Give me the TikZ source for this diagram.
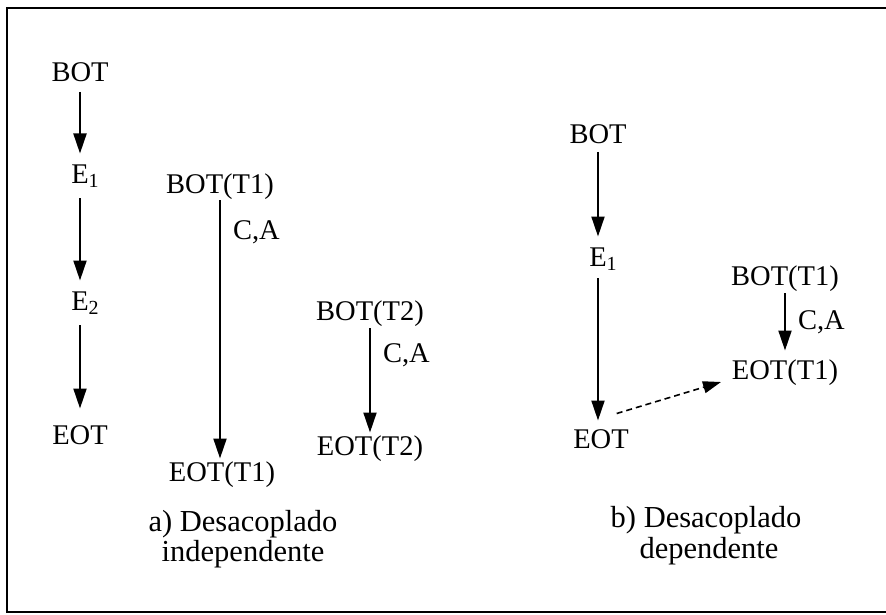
\documentclass[tikz,border=0pt]{standalone}
\usepackage{fontspec}
\setmainfont{Liberation Serif}
\usetikzlibrary{arrows.meta}
\begin{document}
\begin{tikzpicture}[x=1pt,y=-1pt,
  every node/.style={inner sep=0pt, outer sep=0pt, font=\fontsize{28.5}{33}\selectfont},
  lbl/.style={anchor=base, text height=19.5pt, text depth=0pt},
  tag/.style={anchor=base west},
  caption/.style={anchor=base, font=\fontsize{30.5}{33}\selectfont},
  flow/.style={line width=2pt, -{Triangle[length=20pt,width=13pt]}},
  link/.style={line width=1.6pt, dash pattern=on 6pt off 4pt, -{Triangle[length=18pt,width=12pt]}},
  frame/.style={line width=2.8pt}]
\useasboundingbox (0,0) rectangle (886,615);

% outer frame (open on the right)
\draw[frame] (886,8) -- (7,8) -- (7,612) -- (886,612);

% a) single transaction with steps
\node[lbl] (bot) at (80,82) {BOT};
\node[lbl] (e1) at (80,183) {E\rlap{\textsubscript{1}}};
\node[lbl] (e2) at (80,310) {E\rlap{\textsubscript{2}}};
\node[lbl] (eot) at (80,444) {EOT};
\draw[flow, shorten <=10pt, shorten >=10pt] (bot) -- (e1);
\draw[flow, shorten <=15pt, shorten >=10pt] (e1) -- (e2);
\draw[flow, shorten <=15pt, shorten >=16pt] (e2) -- (eot);

% a) decoupled transaction T1
\node[lbl] (b1) at (220,193) {BOT(T1)};
\node[lbl] (e1t) at (222,481) {EOT(T1)};
\draw[flow, shorten <=7pt, shorten >=3pt] (b1.south) -- (b1.south |- e1t.north);
\node[tag] (ca1) at (233,239) {C,A};

% a) decoupled transaction T2
\node[lbl] (b2) at (370,320) {BOT(T2)};
\node[lbl] (e2t) at (370,455) {EOT(T2)};
\draw[flow, shorten <=8pt, shorten >=3pt] (b2) -- (e2t);
\node[tag] (ca2) at (383,362) {C,A};

\node[caption] (capa1) at (243,531) {a) Desacoplado};
\node[caption] (capa2) at (243,561) {independente};

% b) dependent decoupling
\node[lbl] (rbot) at (598,143) {BOT};
\node[lbl] (re1) at (598,266) {E\rlap{\textsubscript{1}}};
\node[lbl] (reot) at (601,448) {EOT};
\draw[flow, shorten <=9pt, shorten >=10pt] (rbot) -- (re1);
\draw[flow, shorten <=12pt, shorten >=8pt] (re1.south) -- (re1.south |- reot.north);

\node[lbl] (rb1) at (785,285) {BOT(T1)};
\node[lbl] (re1t) at (785,379) {EOT(T1)};
\draw[flow, shorten <=8pt, shorten >=9pt] (rb1) -- (re1t);
\node[tag] (ca3) at (798,329) {C,A};

\draw[link] ([shift={(-12,-15)}]reot.north east) -- ([shift={(-11,3)}]re1t.south west);

\node[caption] (capb1) at (706,527) {b) Desacoplado};
\node[caption] (capb2) at (709,558) {dependente};
\end{tikzpicture}
\end{document}
